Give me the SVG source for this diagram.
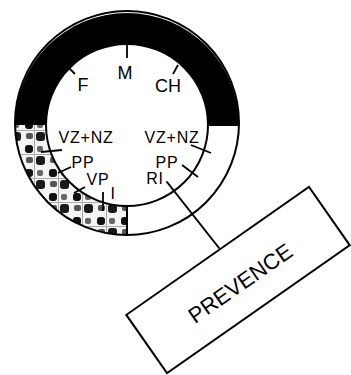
<svg xmlns="http://www.w3.org/2000/svg" width="351" height="375" viewBox="0 0 351 375">
<defs>
<style>
.lbl{font-family:"Liberation Sans",Arial,sans-serif;fill:#000;text-anchor:middle}
.top{font-size:18px}
.low{font-size:16px;letter-spacing:0.8px}
.ln{stroke:#000;stroke-width:2;fill:none;stroke-linecap:round}
.tk{stroke:#000;stroke-width:1.8;fill:none}
</style>
<pattern id="mottle" width="24" height="24" patternUnits="userSpaceOnUse">
<rect width="24" height="24" fill="#f4f4f4"/>
<rect x="1" y="1" width="8" height="8" rx="3" fill="#111"/>
<rect x="13" y="2" width="6" height="6" rx="2" fill="#666"/>
<rect x="2" y="13" width="7" height="6" rx="2" fill="#555"/>
<rect x="12" y="12" width="9" height="9" rx="3" fill="#1a1a1a"/>
<rect x="10" y="0" width="1" height="24" fill="#aaa"/>
<rect x="0" y="10" width="24" height="1" fill="#aaa"/>
</pattern>
</defs>
<rect width="351" height="375" fill="#fff"/>
<g id="ring">
<path d="M15,125 A112,112 0 1 1 239,125 L208,125 A81,81 0 0 0 46,125 Z" fill="#000"/>
<path d="M15,125 A112,112 0 0 0 127,235 L127,206 A81,81 0 0 1 46,125 Z" fill="url(#mottle)"/>
<circle cx="127" cy="123" r="112" class="ln"/>
<circle cx="127" cy="125" r="81" class="ln"/>
<line x1="127" y1="206" x2="127" y2="235" class="ln"/>
<line x1="208" y1="125" x2="239" y2="125" class="ln"/>
</g>
<g id="ticks">
<line x1="68" y1="67" x2="75" y2="74" class="tk"/>
<line x1="127" y1="44" x2="127" y2="58" class="tk"/>
<line x1="178" y1="65" x2="173" y2="74" class="tk"/>
<line x1="41" y1="152" x2="62" y2="150" class="tk"/>
<line x1="58" y1="173" x2="71" y2="167" class="tk"/>
<line x1="74" y1="193" x2="85" y2="187" class="tk"/>
<line x1="103" y1="192" x2="103" y2="211" class="tk"/>
<line x1="191" y1="145" x2="211" y2="153" class="tk"/>
<line x1="182" y1="165" x2="198" y2="177" class="tk"/>
</g>
<g id="labels">
<text class="lbl top" x="83" y="91">F</text>
<text class="lbl top" x="125" y="79">M</text>
<text class="lbl top" x="168" y="92">CH</text>
<text class="lbl low" x="86" y="143">VZ+NZ</text>
<text class="lbl low" x="172" y="143">VZ+NZ</text>
<text class="lbl low" x="83" y="168">PP</text>
<text class="lbl low" x="98" y="185">VP</text>
<text class="lbl low" x="113" y="199">I</text>
<text class="lbl low" x="167" y="168">PP</text>
<text class="lbl low" x="155" y="184">RI</text>
</g>
<g id="connectors">
<line x1="167" y1="182" x2="219" y2="248" class="ln"/>
</g>
<g id="prevence">
<rect x="126.5" y="244.5" width="223" height="71" transform="rotate(-35 238 280)" fill="#fff" stroke="#000" stroke-width="2"/>
<text class="lbl" x="240" y="291" font-size="22" transform="rotate(-35 240 283)">PREVENCE</text>
</g>
</svg>
